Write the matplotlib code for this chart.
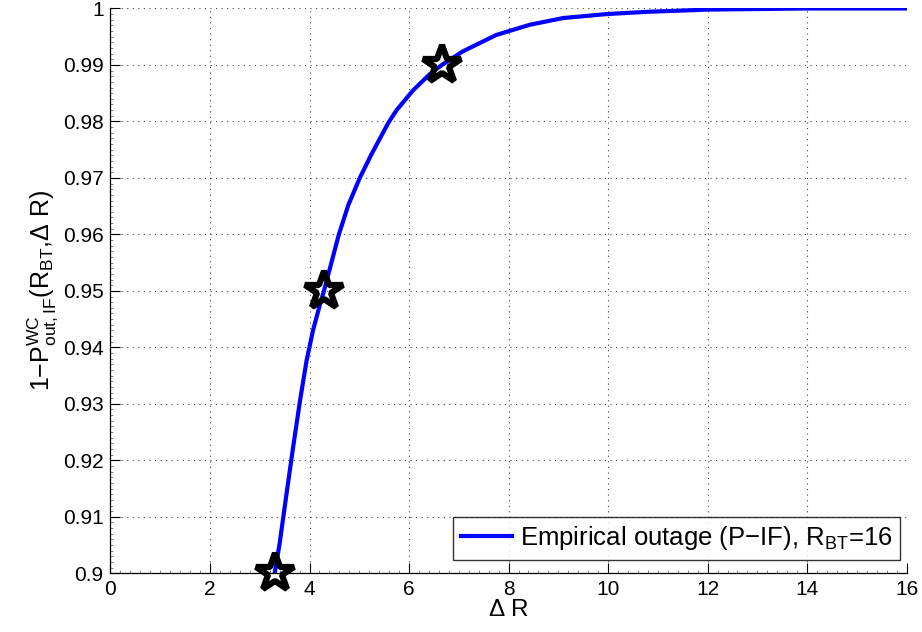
import matplotlib
matplotlib.use("Agg")
import matplotlib.pyplot as plt
from matplotlib.ticker import MultipleLocator

plt.rcParams['font.family'] = ['Liberation Sans', 'DejaVu Sans']
plt.rcParams['mathtext.fontset'] = 'custom'
plt.rcParams['mathtext.rm'] = 'Liberation Sans'
plt.rcParams['mathtext.it'] = 'Liberation Sans'
plt.rcParams['mathtext.sf'] = 'Liberation Sans'

# Data
delta_r = [3.30, 3.40, 3.54, 3.67, 3.81, 3.94, 4.07, 4.21, 4.29, 4.59, 4.78, 5.01,
           5.24, 5.58, 5.75, 6.08, 6.42, 6.66, 7.08, 7.75, 8.42, 9.09, 9.96, 10.77,
           12.0, 14.0, 16.0]
success = [0.900, 0.9053, 0.9142, 0.9223, 0.9306, 0.9376, 0.9430, 0.9476, 0.9500, 0.9600,
           0.9652, 0.9700, 0.9741, 0.9797, 0.9820, 0.9855, 0.9884, 0.9900, 0.9924, 0.9953,
           0.9971, 0.9983, 0.9990, 0.9994, 0.9998, 1.0, 1.0]
star_x = [3.30, 4.29, 6.66]
star_y = [0.90, 0.95, 0.99]
xticks = [0, 2, 4, 6, 8, 10, 12, 14, 16]
yticks = [0.90, 0.91, 0.92, 0.93, 0.94, 0.95, 0.96, 0.97, 0.98, 0.99, 1.00]
ytick_labels = ['0.9', '0.91', '0.92', '0.93', '0.94', '0.95', '0.96', '0.97', '0.98', '0.99', '1']

fig = plt.figure(figsize=(9.22, 6.32), dpi=100)
ax = fig.add_axes([0.1198, 0.0929, 0.8636, 0.8937])

ax.plot(delta_r, success, color='#0000ff', lw=3.0, solid_joinstyle='round',
        label=r'Empirical outage (P$-$IF), R$_{\rm BT}$=16', zorder=3)
ax.plot(star_x, star_y, linestyle='none', marker='*', ms=29, mfc='none',
        mec='k', mew=4.5, clip_on=False, zorder=4)

ax.set_xlim(0, 16)
ax.set_ylim(0.9, 1.0)
ax.set_xticks(xticks)
ax.set_xticklabels([str(t) for t in xticks])
ax.set_yticks(yticks)
ax.set_yticklabels(ytick_labels)
ax.xaxis.set_minor_locator(MultipleLocator(0.2))
ax.yaxis.set_minor_locator(MultipleLocator(0.001))
ax.tick_params(which='major', direction='in', top=False, right=False, labelsize=15,
               length=7, width=0.8, pad=5)
ax.tick_params(which='minor', direction='in', top=False, right=False,
               length=2.5, width=0.5, color='#555555')
ax.grid(True, which='major', linestyle=(0, (1, 4)), color='#444444', lw=0.8)
ax.spines['top'].set_visible(False)
ax.spines['right'].set_visible(False)
for s in ('left', 'bottom'):
    ax.spines[s].set_linewidth(0.9)

ax.set_xlabel(r'$\Delta$ R', fontsize=17.5, labelpad=0)
ax.set_ylabel(r'1$-$P$^{\rm WC}_{\rm out,IF}$(R$_{\rm BT}$,$\Delta$ R)', fontsize=18, labelpad=2)

leg = ax.legend(loc='lower right', bbox_to_anchor=(0.9916, 0.0235), borderaxespad=0,
                fontsize=18.5, frameon=True, fancybox=False, edgecolor='k',
                borderpad=0.3, handlelength=2.0, handletextpad=0.3)
leg.get_frame().set_linewidth(1.0)

fig.savefig('out.png', dpi=100)
